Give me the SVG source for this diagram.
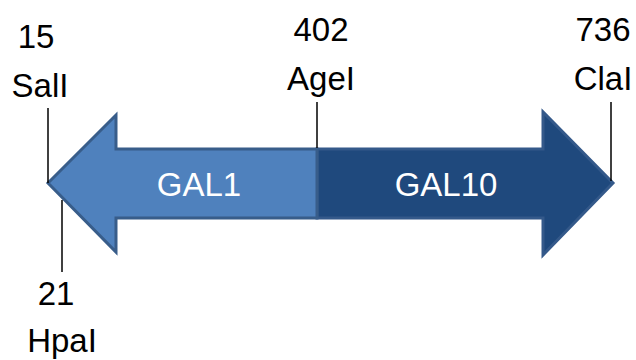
<svg xmlns="http://www.w3.org/2000/svg" width="636" height="360" viewBox="0 0 636 360">
<style>
.lbl{font-family:"Liberation Sans",Arial,sans-serif;font-size:33px;fill:#000;text-anchor:middle}
.gene{font-family:"Liberation Sans",Arial,sans-serif;font-size:33px;fill:#fff;text-anchor:middle}
.tick{stroke:#000;stroke-width:1.5;fill:none}
</style>
<rect width="636" height="360" fill="#fff"/>
<g id="gal10">
<polygon points="317,149 543,149 543,112 613,183 543,255 543,218 317,218" fill="#1F497D" stroke="#34598A" stroke-width="3" stroke-linejoin="miter"/>
<text class="gene" x="446" y="196">GAL10</text>
</g>
<g id="gal1">
<polygon points="48,183 116,115 116,149 317,149 317,218 116,218 116,252" fill="#4F81BD" stroke="#385D8A" stroke-width="3" stroke-linejoin="miter"/>
<text class="gene" x="199" y="196">GAL1</text>
</g>
<g id="connectors">
<line class="tick" x1="48" y1="108" x2="48" y2="183"/>
<line class="tick" x1="62" y1="200" x2="62" y2="272"/>
<line class="tick" x1="317" y1="102" x2="317" y2="148"/>
<line class="tick" x1="611" y1="102" x2="611" y2="181"/>
</g>
<g id="sali">
<text class="lbl" x="36" y="48">15</text>
<text class="lbl" x="40" y="97">SalI</text>
</g>
<g id="agei">
<text class="lbl" x="321" y="41">402</text>
<text class="lbl" x="321" y="90">AgeI</text>
</g>
<g id="clai">
<text class="lbl" x="603" y="41">736</text>
<text class="lbl" x="603" y="90">ClaI</text>
</g>
<g id="hpai">
<text class="lbl" x="56" y="305">21</text>
<text class="lbl" x="62" y="352">HpaI</text>
</g>
</svg>
